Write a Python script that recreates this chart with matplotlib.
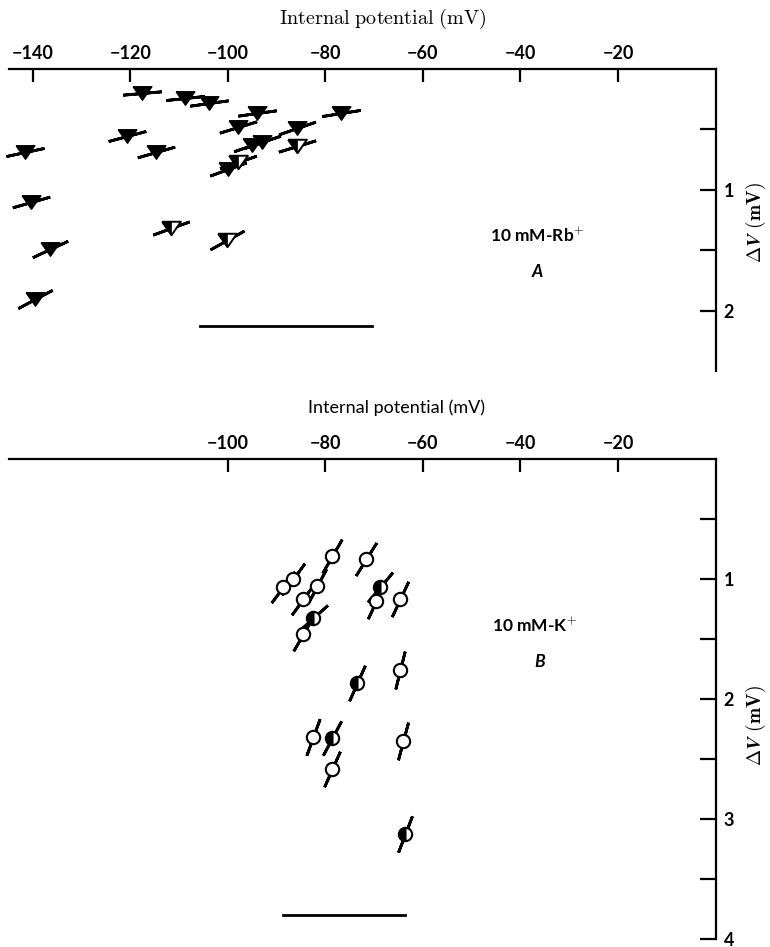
"""Two-panel figure: delta V against internal potential, Rb+ (A) and K+ (B)."""
import matplotlib

matplotlib.use("Agg")
import matplotlib.pyplot as plt  # noqa: E402
from matplotlib.markers import MarkerStyle  # noqa: E402

plt.rcParams["mathtext.fontset"] = "cm"

# panel A, 10 mM-Rb+ : internal potential (mV), delta V (mV), slope of bar (deg)
rb_v_filled = [-117.6, -108.8, -103.9, -94.1, -76.8, -120.7, -97.9, -85.8,
               -114.8, -141.6, -95.1, -93.0, -100.0, -140.4, -136.5, -139.6]
rb_dv_filled = [0.20, 0.24, 0.28, 0.36, 0.36, 0.55, 0.48, 0.49,
                0.69, 0.69, 0.63, 0.60, 0.83, 1.10, 1.49, 1.90]
rb_ang_filled = [5, 6, 8, 8, 9, 15, 17, 19, 16, 12, 19, 19, 20, 16, 25, 28]
rb_v_half = [-85.8, -97.9, -111.7, -100.2]
rb_dv_half = [0.64, 0.77, 1.31, 1.41]
rb_ang_half = [17, 19, 20, 29]
rb_bar_v = [-105.7, -70.5]
rb_bar_dv = [2.12, 2.12]

# panel B, 10 mM-K+
k_v_open = [-78.7, -71.7, -86.6, -88.7, -81.8, -84.7, -69.6, -64.7,
            -84.7, -64.7, -82.6, -64.0, -78.6]
k_dv_open = [0.81, 0.84, 1.00, 1.07, 1.06, 1.17, 1.19, 1.17,
             1.46, 1.76, 2.32, 2.35, 2.59]
k_ang_open = [60, 58, 54, 53, 62, 54, 65, 65, 60, 76, 70, 75, 66]
k_v_half = [-68.8, -82.6, -73.6, -78.6, -63.7]
k_dv_half = [1.07, 1.33, 1.87, 2.33, 3.13]
k_ang_half = [50, 42, 66, 62, 69]
k_bar_v = [-88.8, -63.7]
k_bar_dv = [3.80, 3.80]

a_xticks = [-140, -120, -100, -80, -60, -40, -20]
b_xticks = [-100, -80, -60, -40, -20]
a_yticks = [0.5, 1, 1.5, 2]
b_yticks = [0.5, 1, 1.5, 2, 2.5, 3, 3.5, 4]

W, H = 770, 947
SANS = ["Lato", "DejaVu Sans"]

TRI = [(-1, 0.72), (1, 0.72), (0, -0.72), (-1, 0.72)]
TRI_LEFT = [(-1, 0.72), (0, 0.72), (0, -0.72), (-1, 0.72)]

fig = plt.figure(figsize=(W / 100, H / 100), dpi=100)


def px_axes(left, top, right, bottom):
    return fig.add_axes([left / W, 1 - bottom / H, (right - left) / W, (bottom - top) / H])


def ftext(x, y, s, **kw):
    fig.text(x / W, 1 - y / H, s, ha="center", va="center", **kw)


def frame(ax, xticks, yticks, ymax):
    ax.set_xlim(-145, 0)
    ax.set_ylim(ymax, 0)
    for side in ("left", "bottom"):
        ax.spines[side].set_visible(False)
    for side in ("top", "right"):
        ax.spines[side].set_linewidth(1.6)
    ax.xaxis.tick_top()
    ax.yaxis.tick_right()
    ax.set_xticks(xticks)
    ax.set_xticklabels(["\u2212%d" % abs(t) for t in xticks])
    ax.set_yticks(yticks)
    ax.set_yticklabels([str(int(t)) if t == int(t) else "" for t in yticks])
    ax.tick_params(axis="x", direction="in", length=9.5, width=1.6, pad=5)
    ax.tick_params(axis="y", direction="in", length=11.5, width=1.6, pad=6)
    for lbl in ax.get_xticklabels() + ax.get_yticklabels():
        lbl.set_family(SANS)
        lbl.set_weight("bold")
        lbl.set_fontsize(13)


def bars(ax, xs, ys, angs):
    for x, y, a in zip(xs, ys, angs):
        ax.plot([x], [y], marker=MarkerStyle((2, 2, a - 90)), ms=28,
                mew=2.0, mec="black", ls="none", zorder=2, clip_on=False)


# ---- panel A ----
axa = px_axes(8.6, 69, 715.5, 371.5)
frame(axa, a_xticks, a_yticks, 2.5)
bars(axa, rb_v_filled, rb_dv_filled, rb_ang_filled)
bars(axa, rb_v_half, rb_dv_half, rb_ang_half)
axa.plot(rb_v_filled, rb_dv_filled, ls="none", marker=TRI, ms=13.5, mfc="black",
         mec="black", mew=1, zorder=3, clip_on=False)
axa.plot(rb_v_half, rb_dv_half, ls="none", marker=TRI, ms=13.5, mfc="white",
         mec="black", mew=1.4, zorder=3)
axa.plot(rb_v_half, rb_dv_half, ls="none", marker=TRI_LEFT, ms=13.5, mfc="black",
         mec="black", mew=0.5, zorder=4)
axa.plot(rb_bar_v, rb_bar_dv, color="black", lw=2.0)

# ---- panel B ----
axb = px_axes(8.6, 458.5, 715.5, 938.5)
frame(axb, b_xticks, b_yticks, 4)
bars(axb, k_v_open, k_dv_open, k_ang_open)
bars(axb, k_v_half, k_dv_half, k_ang_half)
axb.plot(k_v_open, k_dv_open, ls="none", marker="o", ms=9.6, mfc="white",
         mec="black", mew=1.5, zorder=3)
axb.plot(k_v_half, k_dv_half, ls="none", marker="o", ms=9.6, fillstyle="left",
         mfc="black", mfcalt="white", mec="black", mew=1.5, zorder=3)
axb.plot(k_bar_v, k_bar_dv, color="black", lw=2.0)

# ---- text ----
ylabel = r"$\mathbf{\Delta}\boldsymbol{V}\ \mathbf{(mV)}$"
ftext(383, 19, r"$\mathrm{Internal\ potential\ (mV)}$", fontsize=14.5)
ftext(397, 408, "Internal potential (mV)", family=SANS, fontsize=13)
ftext(756, 222, ylabel, fontsize=14, rotation=90)
ftext(756, 725, ylabel, fontsize=14, rotation=90)
ftext(537, 236, r"10 mM-Rb$^{+}$", family=SANS, weight="bold", fontsize=12.5)
ftext(537, 272, "A", family=SANS, weight="bold", style="italic", fontsize=12.5)
ftext(535, 626, r"10 mM-K$^{+}$", family=SANS, weight="bold", fontsize=12.5)
ftext(540, 662, "B", family=SANS, weight="bold", style="italic", fontsize=12.5)

fig.savefig("out.png", dpi=100)
plt.close(fig)
